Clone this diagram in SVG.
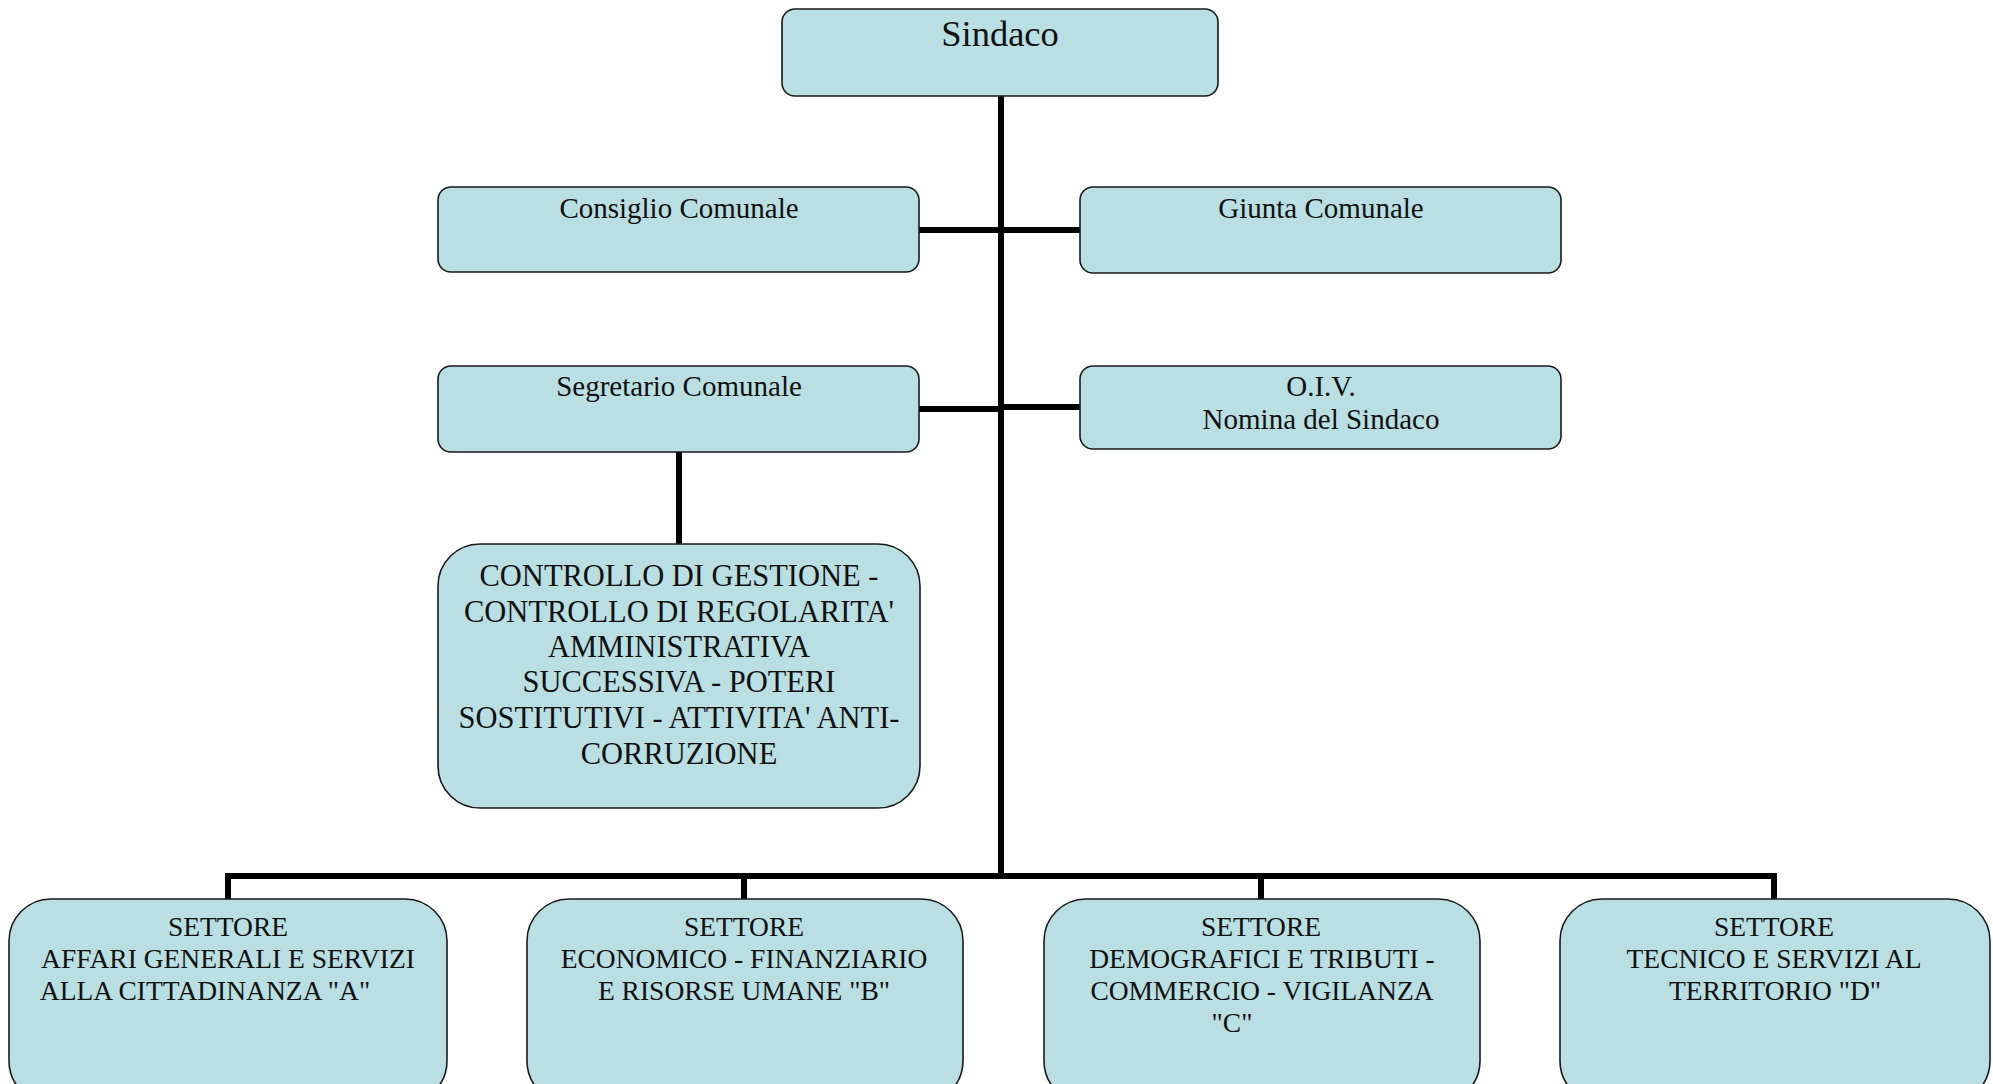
<svg xmlns="http://www.w3.org/2000/svg" width="1993" height="1084" viewBox="0 0 1993 1084">
<style>
.box{fill:#b9dfe3;stroke:#1a1a1a;stroke-width:1.6}
.t{font-family:"Liberation Serif","Times New Roman",serif;fill:#111;text-anchor:middle}
.s27{font-size:29px}
.s29{font-size:30.5px}
.s26{font-size:27.5px}
.conn{fill:none;stroke:#000;stroke-width:6}
</style>
<rect width="1993" height="1084" fill="#fff"/>
<g id="connectors">
<line class="conn" x1="1001" y1="95" x2="1001" y2="876"/>
<line class="conn" x1="919" y1="230" x2="1080" y2="230"/>
<line class="conn" x1="919" y1="409" x2="1001" y2="409"/>
<line class="conn" x1="1001" y1="407" x2="1080" y2="407"/>
<line class="conn" x1="679" y1="451" x2="679" y2="545"/>
<polyline class="conn" points="228,900 228,876 1774,876 1774,900"/>
<line class="conn" x1="744" y1="876" x2="744" y2="900"/>
<line class="conn" x1="1261" y1="876" x2="1261" y2="900"/>
</g>
<g id="sindaco">
<rect class="box" x="782" y="9" width="436" height="87" rx="13"/>
<text class="t" x="1000" y="46" font-size="36.5">Sindaco</text>
</g>
<g id="consiglio">
<rect class="box" x="438" y="187" width="481" height="85" rx="13"/>
<text class="t s27" x="679" y="218">Consiglio Comunale</text>
</g>
<g id="giunta">
<rect class="box" x="1080" y="187" width="481" height="86" rx="13"/>
<text class="t s27" x="1321" y="218">Giunta Comunale</text>
</g>
<g id="segretario">
<rect class="box" x="438" y="366" width="481" height="86" rx="13"/>
<text class="t s27" x="679" y="396">Segretario Comunale</text>
</g>
<g id="oiv">
<rect class="box" x="1080" y="366" width="481" height="83" rx="13"/>
<text class="t s27" x="1321" y="396">O.I.V.</text>
<text class="t s27" x="1321" y="429">Nomina del Sindaco</text>
</g>
<g id="controllo">
<rect class="box" x="438" y="544" width="482" height="264" rx="42"/>
<text class="t s29" x="679" y="586">CONTROLLO DI GESTIONE -</text>
<text class="t s29" x="679" y="622">CONTROLLO DI REGOLARITA'</text>
<text class="t s29" x="679" y="657">AMMINISTRATIVA</text>
<text class="t s29" x="679" y="692">SUCCESSIVA - POTERI</text>
<text class="t s29" x="679" y="728">SOSTITUTIVI - ATTIVITA' ANTI-</text>
<text class="t s29" x="679" y="764">CORRUZIONE</text>
</g>
<g id="settoreA">
<rect class="box" x="9" y="899" width="438" height="204" rx="42"/>
<text class="t s26" x="228" y="936">SETTORE</text>
<text class="t s26" x="228" y="968">AFFARI GENERALI E SERVIZI</text>
<text class="t s26" x="205" y="1000">ALLA CITTADINANZA "A"</text>
</g>
<g id="settoreB">
<rect class="box" x="527" y="899" width="436" height="204" rx="42"/>
<text class="t s26" x="744" y="936">SETTORE</text>
<text class="t s26" x="744" y="968">ECONOMICO - FINANZIARIO</text>
<text class="t s26" x="744" y="1000">E RISORSE UMANE "B"</text>
</g>
<g id="settoreC">
<rect class="box" x="1044" y="899" width="436" height="204" rx="42"/>
<text class="t s26" x="1261" y="936">SETTORE</text>
<text class="t s26" x="1262" y="968">DEMOGRAFICI E TRIBUTI -</text>
<text class="t s26" x="1262" y="1000">COMMERCIO - VIGILANZA</text>
<text class="t s26" x="1232" y="1032">"C"</text>
</g>
<g id="settoreD">
<rect class="box" x="1560" y="899" width="430" height="204" rx="42"/>
<text class="t s26" x="1774" y="936">SETTORE</text>
<text class="t s26" x="1774" y="968">TECNICO E SERVIZI AL</text>
<text class="t s26" x="1775" y="1000">TERRITORIO "D"</text>
</g>
</svg>
